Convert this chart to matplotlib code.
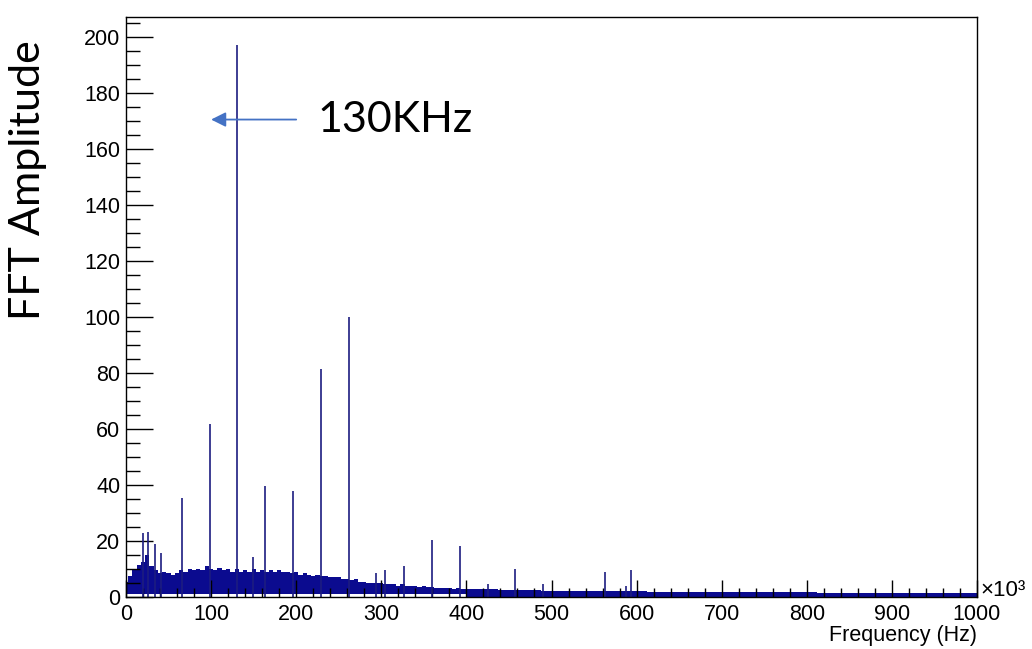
import matplotlib.pyplot as plt
import numpy as np
from matplotlib.ticker import MultipleLocator

# frequency axis in kHz (shown as x10^3 Hz)
spike_freq = [19.6, 25.4, 34, 41, 65.5, 98.3, 130.5, 148.7, 163, 196.5,
              229, 261.5, 293.5, 304, 327, 359.5, 392, 425, 457.5, 490,
              562.5, 588, 593.5]
spike_amp = [22.8, 23.3, 19, 15.7, 35.4, 61.8, 197, 14.4, 39.6, 38,
             81.3, 99.8, 8.5, 9.6, 11.2, 20.4, 18.2, 4.6, 10, 4.6,
             9, 4, 9.5]

# noise floor, 5 kHz bins from 0 to 400 kHz
band_freq = np.arange(0, 405, 5)
band_top = [5.5, 7.5, 9.5, 11.5, 12.5, 15, 11, 9.5, 8.5, 9,
            8.5, 8, 8.5, 9.5, 9, 10, 9.5, 10, 9.5, 11,
            10, 9.5, 10.5, 9.5, 10, 9, 10, 9, 9.5, 9,
            10, 9, 9.5, 9, 9.5, 9, 9.5, 9, 9, 8.5,
            9, 8, 8.5, 8, 7.5, 8, 7.5, 7.5, 7, 7,
            7, 6.5, 6.5, 6, 6.5, 5.5, 5.5, 5, 5, 5,
            5, 4.5, 4.5, 4.5, 4, 4.5, 4, 4, 4, 3.5,
            3.8, 3.5, 3.5, 3.3, 3.3, 3.2, 3.2, 3, 3.2, 3,
            3]
band_floor = 1.2

# noise tail, 25 kHz steps from 400 to 1000 kHz
tail_freq = np.arange(400, 1025, 25)
tail_top = [3, 2.8, 2.6, 2.4, 2.3, 2.2, 2.1, 2.0, 2.0, 1.9,
            1.9, 1.8, 1.8, 1.8, 1.7, 1.7, 1.7, 1.6, 1.6, 1.6,
            1.6, 1.5, 1.5, 1.5, 1.5]

navy = '#0b0b8f'
tick_font = 'Liberation Sans'

fig = plt.figure(figsize=(10.32, 6.49), dpi=100)
ax = fig.add_axes([126 / 1032, 1 - 597 / 649, 851 / 1032, 580 / 649])

ax.fill_between(band_freq, band_floor, band_top, step='mid', color=navy, lw=0)
ax.fill_between(tail_freq, 0, tail_top, step='mid', color=navy, lw=0)
ax.vlines(spike_freq, 0, spike_amp, color='#1c1c80', lw=1.2)

ax.set_xlim(0, 1000)
ax.set_ylim(0, 207)

ax.xaxis.set_major_locator(MultipleLocator(100))
ax.xaxis.set_minor_locator(MultipleLocator(20))
ax.yaxis.set_major_locator(MultipleLocator(20))
ax.yaxis.set_minor_locator(MultipleLocator(5))
ax.tick_params(axis='both', which='both', direction='in', top=False, right=False,
               width=1, color='black', labelsize=15.5)
ax.tick_params(axis='x', which='major', length=12, pad=5)
ax.tick_params(axis='x', which='minor', length=6.5)
ax.tick_params(axis='y', which='major', length=19.5, pad=4)
ax.tick_params(axis='y', which='minor', length=10)
for lab in ax.get_xticklabels() + ax.get_yticklabels():
    lab.set_fontfamily(tick_font)
for s in ax.spines.values():
    s.set_linewidth(1)

ax.set_xlabel('Frequency (Hz)', loc='right', fontsize=15.5, fontfamily=tick_font)
ax.xaxis.set_label_coords(1.0, -0.049)
fig.text(980 / 1032, 1 - 596 / 649, '×10³', fontsize=16, fontfamily=tick_font,
         ha='left', va='baseline')

fig.text(28 / 1032, 1 - 180 / 649, 'FFT Amplitude', rotation=90, fontsize=31,
         fontfamily='Lato', ha='center', va='center')

ax.annotate('', xy=(100, 170.4), xytext=(200, 170.4),
            arrowprops=dict(arrowstyle='-|>', color='#4472C4', lw=1.3,
                            mutation_scale=22, shrinkA=0, shrinkB=0))
ax.text(225, 170.4, '130KHz', fontsize=31, fontfamily='Lato', ha='left', va='center')

fig.savefig('out.png', dpi=100)
